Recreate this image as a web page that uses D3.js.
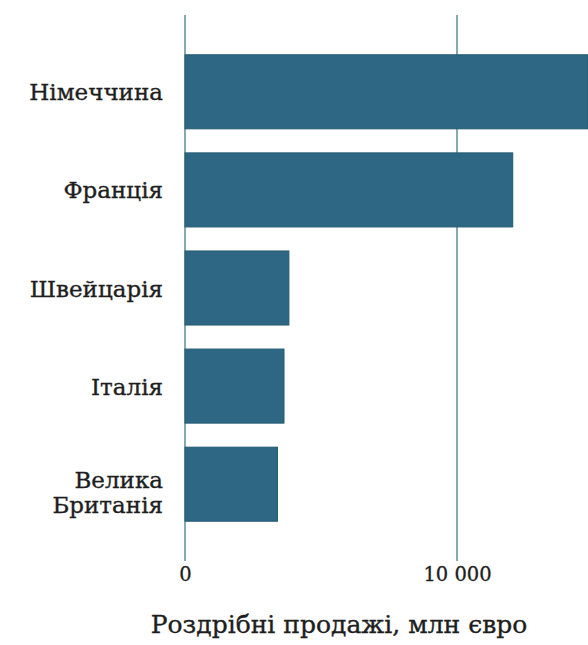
<!DOCTYPE html>
<html><head><meta charset="utf-8">
<script src="https://cdn.jsdelivr.net/npm/d3@7"></script>
<style>body{margin:0;background:#fff}svg{display:block}</style>
</head><body><svg id="c" width="588" height="645"></svg>
<script>
const categories = [["Німеччина"], ["Франція"], ["Швейцарія"], ["Італія"], ["Велика", "Британія"]];
const values = [14800, 12050, 3820, 3640, 3400];
const tickValues = [0, 10000];
const tickLabels = ["0", "10 000"];
const axisTitle = "Роздрібні продажі, млн євро";

const svg = d3.select("#c");
const font = "'DejaVu Serif', serif";
const ink = "#1e1e1e";
const x = d3.scaleLinear().domain([0, 10000]).range([185, 457]);
const y = d3.scaleBand().domain(d3.range(values.length)).range([43, 533]).paddingInner(0.245).paddingOuter(0.12);

svg.append("g").selectAll("line").data(tickValues).join("line")
  .attr("x1", d => x(d)).attr("x2", d => x(d))
  .attr("y1", 15).attr("y2", 561)
  .attr("stroke", "#5f8b9d").attr("stroke-width", 1.5);

svg.append("g").selectAll("rect").data(values).join("rect")
  .attr("x", x(0)).attr("y", (d, i) => y(i))
  .attr("width", d => x(d) - x(0)).attr("height", y.bandwidth())
  .attr("fill", "#2e6783").attr("stroke", "#245a73").attr("stroke-width", 1);

// category labels: one text element per line
const lines = [];
categories.forEach((c, i) => c.forEach((t, j) => lines.push({t, i, j, n: c.length})));
svg.append("g").selectAll("text").data(lines).join("text")
  .attr("x", 163).attr("text-anchor", "end")
  .attr("font-family", font).attr("font-size", 23).attr("fill", ink)
  .attr("stroke", ink).attr("stroke-width", 0.35)
  .attr("y", d => y(d.i) + y.bandwidth() / 2 + 8.5 - (d.n - 1) * 4.5 + d.j * 25)
  .text(d => d.t);

const ax = svg.append("g").attr("transform", "translate(0,561)")
  .call(d3.axisBottom(x).tickValues(tickValues).tickFormat((d, i) => tickLabels[i]).tickSize(0).tickPadding(0));
ax.select(".domain").remove();
ax.selectAll("text").attr("font-family", font).attr("font-size", 19.5).attr("fill", ink)
  .attr("stroke", ink).attr("stroke-width", 0.3).attr("y", 20).attr("dy", 0);

svg.append("text").attr("x", 339).attr("y", 633).attr("text-anchor", "middle")
  .attr("font-family", font).attr("font-size", 25).attr("fill", ink)
  .attr("stroke", ink).attr("stroke-width", 0.35).text(axisTitle);
</script></body></html>
